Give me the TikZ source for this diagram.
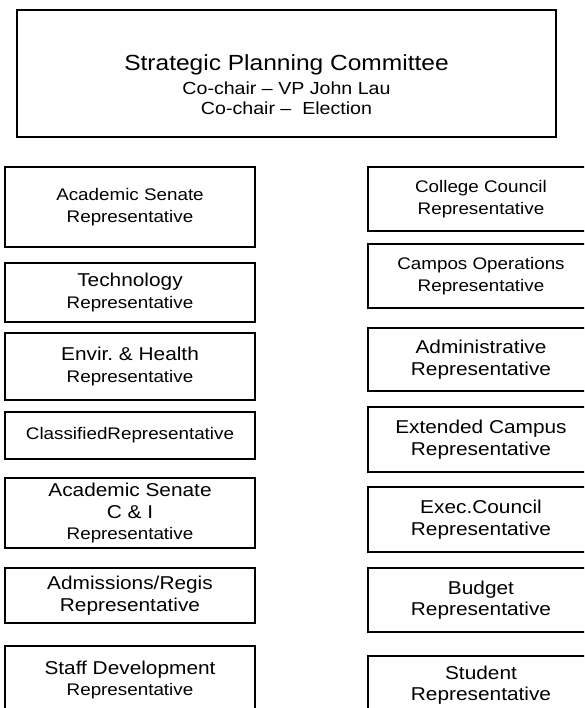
\documentclass[tikz,border=0pt]{standalone}
\usepackage{fontspec}
\setmainfont{Liberation Sans}[FakeStretch=1.12]
\frenchspacing
\newcommand{\bigtxt}{\fontsize{18.6}{21.5}\selectfont}
\newcommand{\smtxt}{\fontsize{16.8}{21.5}\selectfont}
\newcommand{\ttltxt}{\fontsize{21.9}{24}\selectfont}
\newcommand{\chtxt}{\fontsize{17.5}{20}\selectfont}
\tikzset{
  box/.style={draw, line width=1.7pt, align=center, inner sep=0pt, font=\bigtxt},
  lbox/.style={box, minimum width=250pt},
  rbox/.style={box, minimum width=226pt},
  line/.style={inner sep=0pt, anchor=base}
}
\begin{document}
\begin{tikzpicture}[x=1pt, y=-1pt]
\useasboundingbox (0,0) rectangle (584,708);
\clip (0,0) rectangle (584,708);
% top committee box
\node[box, minimum width=539pt, minimum height=127pt] (spc) at (286.5,73.5) {};
\node[line, font=\ttltxt] (spc-1) at (286.5,70.8) {Strategic Planning Committee};
\node[line, font=\chtxt] (spc-2) at (286.5,94.3) {Co-chair – VP John Lau};
\node[line, font=\chtxt] (spc-3) at (286.5,114.3) {Co-chair –\ \ Election};
% left column
\node[lbox, minimum height=80pt, font=\smtxt] (l1) at (130,207) {Academic Senate\\Representative};
\node[lbox, minimum height=59pt] (l2) at (130,292.5) {Technology\\{\smtxt Representative}};
\node[lbox, minimum height=67pt] (l3) at (130,366.5) {Envir. \& Health\\{\smtxt Representative}};
\node[lbox, minimum height=47pt, font=\smtxt] (l4) at (130,435.5) {ClassifiedRepresentative};
\node[lbox, minimum height=70pt] (l5) at (130,513) {Academic Senate\\C \& I\\{\smtxt Representative}};
\node[lbox, minimum height=55pt] (l6) at (130,595.5) {Admissions/Regis\\Representative};
\node[lbox, minimum height=68pt] (l7) at (130,680) {Staff Development\\{\smtxt Representative}};
% right column
\node[rbox, minimum height=64pt, font=\smtxt] (r1) at (481,199) {College Council\\Representative};
\node[rbox, minimum height=64pt, font=\smtxt] (r2) at (481,276) {Campos Operations\\Representative};
\node[rbox, minimum height=63pt] (r3) at (481,359.5) {Administrative\\Representative};
\node[rbox, minimum height=65pt] (r4) at (481,439.5) {Extended Campus\\Representative};
\node[rbox, minimum height=65pt] (r5) at (481,519.5) {Exec.Council\\Representative};
\node[rbox, minimum height=64pt] (r6) at (481,600) {Budget\\Representative};
\node[rbox, minimum height=58pt] (r7) at (481,685) {Student\\Representative};
\end{tikzpicture}
\end{document}
